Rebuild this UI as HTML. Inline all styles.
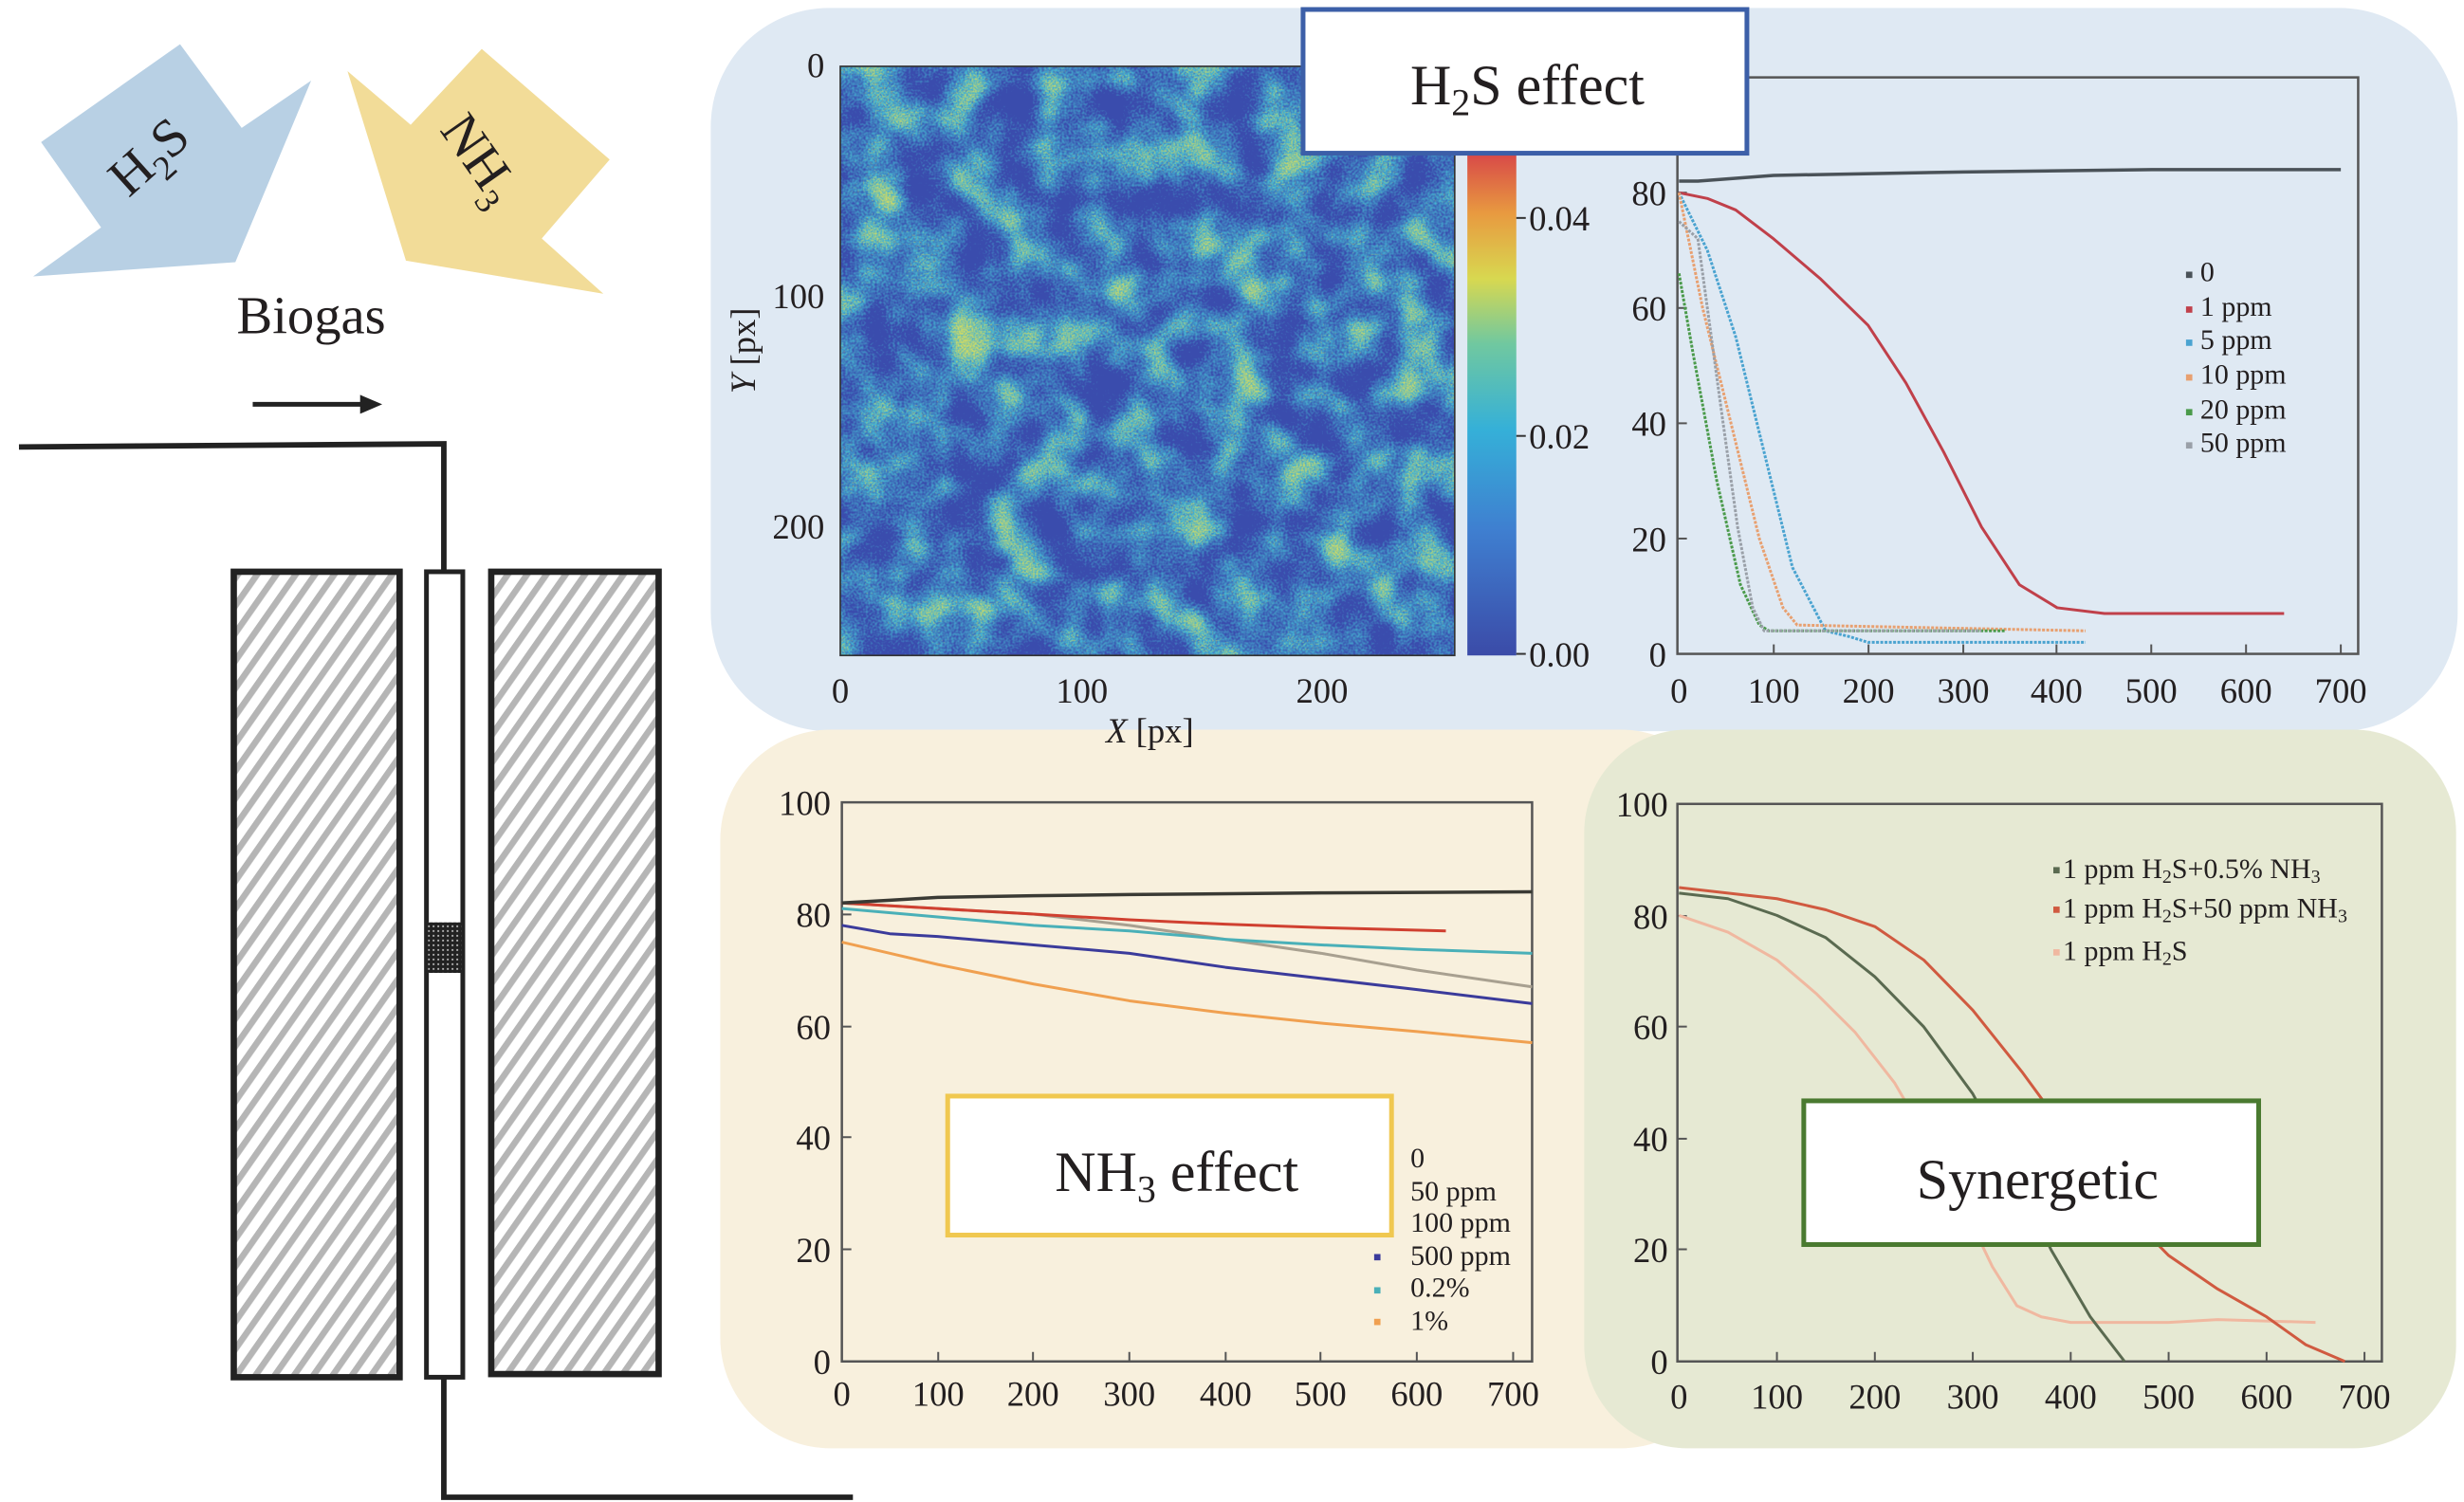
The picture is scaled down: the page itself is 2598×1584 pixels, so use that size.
<!DOCTYPE html>
<html><head><meta charset="utf-8"><style>
html,body{margin:0;padding:0;background:#fff;}
svg{display:block;}
text{font-family:"Liberation Serif",serif;fill:#231f20;}
</style></head><body>
<svg width="2598" height="1584" viewBox="0 0 1560 951" preserveAspectRatio="none" xmlns="http://www.w3.org/2000/svg">
<defs>
<pattern id="hatch" width="10" height="10" patternUnits="userSpaceOnUse" patternTransform="rotate(35)">
<rect width="10" height="10" fill="#fff"/><rect x="0" width="4" height="10" fill="#b5b5b5"/>
</pattern>
<pattern id="dots" width="3" height="3" patternUnits="userSpaceOnUse"><rect width="3" height="3" fill="#222"/><rect x="1" y="1" width="1" height="1" fill="#ddd"/></pattern>
<linearGradient id="cbar" x1="0" y1="1" x2="0" y2="0">
<stop offset="0" stop-color="#3b4ba8"/><stop offset="0.25" stop-color="#3f7fd0"/><stop offset="0.45" stop-color="#35b0d8"/><stop offset="0.62" stop-color="#70c8a0"/><stop offset="0.75" stop-color="#d8d850"/><stop offset="0.88" stop-color="#e89a40"/><stop offset="1" stop-color="#d84848"/>
</linearGradient>
<filter id="blob" x="0" y="0" width="1" height="1" color-interpolation-filters="sRGB">
<feTurbulence type="fractalNoise" baseFrequency="0.035" numOctaves="2" seed="3" result="a0"/>
<feColorMatrix in="a0" type="matrix" values="1 0 0 0 0  0 1 0 0 0  0 0 1 0 0  0 0 0 0 1" result="a"/>
<feTurbulence type="fractalNoise" baseFrequency="0.7" numOctaves="1" seed="8" result="b0"/>
<feColorMatrix in="b0" type="matrix" values="1 0 0 0 0  0 1 0 0 0  0 0 1 0 0  0 0 0 0 1" result="b"/>
<feComposite in="a" in2="b" operator="arithmetic" k1="0" k2="1" k3="0.55" k4="-0.3" result="c"/>
<feColorMatrix in="c" type="matrix" values="0 0 0 0 0.27  0 0 0 0 0.70  0 0 0 0 0.82  2.6 0 0 0 -0.8"/>
</filter>
<filter id="blob2" x="0" y="0" width="1" height="1" color-interpolation-filters="sRGB">
<feTurbulence type="fractalNoise" baseFrequency="0.035" numOctaves="2" seed="3" result="a0"/>
<feColorMatrix in="a0" type="matrix" values="1 0 0 0 0  0 1 0 0 0  0 0 1 0 0  0 0 0 0 1" result="a"/>
<feTurbulence type="fractalNoise" baseFrequency="0.9" numOctaves="1" seed="5" result="b0"/>
<feColorMatrix in="b0" type="matrix" values="1 0 0 0 0  0 1 0 0 0  0 0 1 0 0  0 0 0 0 1" result="b"/>
<feComposite in="a" in2="b" operator="arithmetic" k1="0" k2="1" k3="0.6" k4="-0.45" result="c"/>
<feColorMatrix in="c" type="matrix" values="0 0 0 0 0.80  0 0 0 0 0.85  0 0 0 0 0.40  3 0 0 0 -1.4"/>
</filter>
</defs>

<!-- panels -->
<rect x="450" y="5" width="1106" height="458" rx="75" fill="#dfe9f3"/>
<rect x="456" y="462" width="640" height="455" rx="70" fill="#f8f0dd"/>
<rect x="1003" y="462" width="552" height="455" rx="65" fill="#e6e9d3"/>

<!-- left schematic -->
<polygon points="114,28 153,81 197,51 149,166 21,175 64,144 26,90" fill="#b8d0e4"/>
<polygon points="305,31 386,101 343,151 382,186 257,165 220,45 260,79" fill="#f2dc98"/>
<text x="95" y="110" font-size="34" text-anchor="middle" transform="rotate(-42 95 100)">H<tspan font-size="22" dy="8">2</tspan><tspan dy="-8">S</tspan></text>
<text x="305" y="112" font-size="34" text-anchor="middle" transform="rotate(55 305 100)">NH<tspan font-size="22" dy="8">3</tspan></text>
<text x="197" y="211" font-size="34" text-anchor="middle">Biogas</text>
<line x1="160" y1="256" x2="230" y2="256" stroke="#222" stroke-width="3"/>
<polygon points="228,250 242,256 228,262" fill="#222"/>
<polyline points="12,283 281,281 281,362" fill="none" stroke="#222" stroke-width="3.5"/>
<rect x="148" y="362" width="105" height="510" fill="url(#hatch)" stroke="#222" stroke-width="4"/>
<rect x="311" y="362" width="106" height="508" fill="url(#hatch)" stroke="#222" stroke-width="4"/>
<rect x="270" y="362" width="23" height="510" fill="#fff" stroke="#222" stroke-width="3"/>
<rect x="271" y="584" width="21" height="32" fill="url(#dots)"/>
<polyline points="281,872 281,948 540,948" fill="none" stroke="#222" stroke-width="3.5"/>

<!-- heatmap -->
<rect x="532" y="42" width="389" height="373" fill="#3a4cad"/>
<rect x="532" y="42" width="389" height="373" fill="#000" filter="url(#blob)"/>
<rect x="532" y="42" width="389" height="373" fill="#000" filter="url(#blob2)"/>
<rect x="532" y="42" width="389" height="373" fill="none" stroke="#333" stroke-width="1"/>
<rect x="929" y="97" width="31" height="318" fill="url(#cbar)"/>
<g stroke="#333" stroke-width="1.2">
<line x1="960" y1="138" x2="966" y2="138"/><line x1="960" y1="276" x2="966" y2="276"/><line x1="960" y1="414" x2="966" y2="414"/>
</g>
<g font-size="22">
<text x="968" y="146">0.04</text><text x="968" y="284">0.02</text><text x="968" y="422">0.00</text>
<text x="532" y="445" text-anchor="middle">0</text><text x="685" y="445" text-anchor="middle">100</text><text x="837" y="445" text-anchor="middle">200</text>
<text x="522" y="49" text-anchor="end">0</text><text x="522" y="195" text-anchor="end">100</text><text x="522" y="341" text-anchor="end">200</text>
<text x="728" y="470" text-anchor="middle"><tspan font-style="italic">X</tspan> [px]</text>
<text x="478" y="222" text-anchor="middle" transform="rotate(-90 478 222)"><tspan font-style="italic">Y</tspan> [px]</text>
</g>

<!-- H2S plot -->
<rect x="1062" y="49" width="431" height="365" fill="none" stroke="#555" stroke-width="1.5"/>
<g stroke="#555" stroke-width="1.2">
<line x1="1123" y1="414" x2="1123" y2="408"/><line x1="1183" y1="414" x2="1183" y2="408"/><line x1="1243" y1="414" x2="1243" y2="408"/><line x1="1302" y1="414" x2="1302" y2="408"/><line x1="1362" y1="414" x2="1362" y2="408"/><line x1="1422" y1="414" x2="1422" y2="408"/><line x1="1482" y1="414" x2="1482" y2="408"/>
<line x1="1062" y1="341" x2="1068" y2="341"/><line x1="1062" y1="268" x2="1068" y2="268"/><line x1="1062" y1="195" x2="1068" y2="195"/><line x1="1062" y1="122" x2="1068" y2="122"/>
</g>
<g font-size="22" text-anchor="middle">
<text x="1063" y="445">0</text><text x="1123" y="445">100</text><text x="1183" y="445">200</text><text x="1243" y="445">300</text><text x="1302" y="445">400</text><text x="1362" y="445">500</text><text x="1422" y="445">600</text><text x="1482" y="445">700</text>
</g>
<g font-size="22" text-anchor="end">
<text x="1055" y="422">0</text><text x="1055" y="349">20</text><text x="1055" y="276">40</text><text x="1055" y="203">60</text><text x="1055" y="130">80</text>
</g>
<g transform="translate(1063,414) scale(0.5986,-3.65)" fill="none" stroke-linejoin="round">
<polyline vector-effect="non-scaling-stroke" stroke="#4a5258" stroke-width="3.5" points="0,82 20,82 100,83 300,83.6 500,84 700,84"/>
<polyline vector-effect="non-scaling-stroke" stroke="#c0404a" stroke-width="3" points="0,80 30,79 60,77 100,72 150,65 200,57 240,47 280,35 320,22 360,12 400,8 450,7 640,7"/>
<polyline vector-effect="non-scaling-stroke" stroke="#4aa3d0" stroke-width="3" stroke-dasharray="3 1.5" points="0,80 30,70 60,55 90,35 120,15 155,4 180,3 200,2 430,2"/>
<polyline vector-effect="non-scaling-stroke" stroke="#e8a070" stroke-width="3" stroke-dasharray="3 1.5" points="0,80 25,60 55,40 85,20 110,8 125,5 430,4"/>
<polyline vector-effect="non-scaling-stroke" stroke="#4a9a4a" stroke-width="3" stroke-dasharray="3 1.5" points="0,66 15,52 40,30 65,12 85,5 95,4 345,4"/>
<polyline vector-effect="non-scaling-stroke" stroke="#9aa0a8" stroke-width="3" stroke-dasharray="3 1.5" points="0,75 20,72 30,60 45,42 62,22 78,8 90,4 320,4"/>
</g>
<g font-size="18">
<rect x="1384" y="172" width="4" height="4" fill="#4a5258"/><text x="1393" y="178">0</text>
<rect x="1384" y="194" width="4" height="4" fill="#c0404a"/><text x="1393" y="200">1 ppm</text>
<rect x="1384" y="215" width="4" height="4" fill="#4aa3d0"/><text x="1393" y="221">5 ppm</text>
<rect x="1384" y="237" width="4" height="4" fill="#e8a070"/><text x="1393" y="243">10 ppm</text>
<rect x="1384" y="259" width="4" height="4" fill="#4a9a4a"/><text x="1393" y="265">20 ppm</text>
<rect x="1384" y="280" width="4" height="4" fill="#9aa0a8"/><text x="1393" y="286">50 ppm</text>
</g>
<rect x="825" y="6" width="281" height="91" fill="#fff" stroke="#3c5fa8" stroke-width="3"/>
<text x="967" y="66" font-size="36" text-anchor="middle">H<tspan font-size="24" dy="7">2</tspan><tspan dy="-7">S effect</tspan></text>

<!-- NH3 plot -->
<rect x="533" y="508" width="437" height="354" fill="none" stroke="#555" stroke-width="1.5"/>
<g stroke="#555" stroke-width="1.2">
<line x1="594" y1="862" x2="594" y2="856"/><line x1="654" y1="862" x2="654" y2="856"/><line x1="715" y1="862" x2="715" y2="856"/><line x1="776" y1="862" x2="776" y2="856"/><line x1="836" y1="862" x2="836" y2="856"/><line x1="897" y1="862" x2="897" y2="856"/><line x1="958" y1="862" x2="958" y2="856"/>
<line x1="533" y1="791" x2="539" y2="791"/><line x1="533" y1="720" x2="539" y2="720"/><line x1="533" y1="650" x2="539" y2="650"/><line x1="533" y1="579" x2="539" y2="579"/>
</g>
<g font-size="22" text-anchor="middle">
<text x="533" y="890">0</text><text x="594" y="890">100</text><text x="654" y="890">200</text><text x="715" y="890">300</text><text x="776" y="890">400</text><text x="836" y="890">500</text><text x="897" y="890">600</text><text x="958" y="890">700</text>
</g>
<g font-size="22" text-anchor="end">
<text x="526" y="870">0</text><text x="526" y="799">20</text><text x="526" y="728">40</text><text x="526" y="658">60</text><text x="526" y="587">80</text><text x="526" y="516">100</text>
</g>
<g transform="translate(533,862) scale(0.607,-3.54)" fill="none" stroke-linejoin="round">
<polyline vector-effect="non-scaling-stroke" stroke="#a8a090" stroke-width="3" points="0,82 100,81 200,80 300,78 400,75.5 500,73 600,70 720,67"/>
<polyline vector-effect="non-scaling-stroke" stroke="#4ab0b8" stroke-width="3" points="0,81 100,79.5 200,78 300,77 400,75.5 500,74.5 600,73.7 720,73"/>
<polyline vector-effect="non-scaling-stroke" stroke="#d04030" stroke-width="3" points="0,82 100,81 200,80 300,79 400,78.2 500,77.6 630,77"/>
<polyline vector-effect="non-scaling-stroke" stroke="#3b3b9b" stroke-width="3" points="0,78 50,76.5 100,76 200,74.5 300,73 400,70.5 500,68.5 600,66.5 720,64"/>
<polyline vector-effect="non-scaling-stroke" stroke="#f0a050" stroke-width="3" points="0,75 50,73 100,71 200,67.5 300,64.5 400,62.3 500,60.5 600,59 720,57"/>
<polyline vector-effect="non-scaling-stroke" stroke="#3a3a34" stroke-width="3.5" points="0,82 50,82.5 100,83 200,83.3 300,83.5 500,83.8 720,84"/>
</g>
<rect x="600" y="694" width="281" height="88" fill="#fff" stroke="#f0c850" stroke-width="3"/>
<text x="745" y="754" font-size="36" text-anchor="middle">NH<tspan font-size="24" dy="7">3</tspan><tspan dy="-7"> effect</tspan></text>
<g font-size="18">
<text x="893" y="739">0</text><text x="893" y="760">50 ppm</text><text x="893" y="780">100 ppm</text><text x="893" y="801">500 ppm</text><text x="893" y="821">0.2%</text><text x="893" y="842">1%</text>
<rect x="870" y="794" width="4" height="4" fill="#3b3b9b"/><rect x="870" y="815" width="4" height="4" fill="#4ab0b8"/><rect x="870" y="835" width="4" height="4" fill="#f0a050"/>
</g>

<!-- Synergetic plot -->
<rect x="1062" y="509" width="446" height="353" fill="none" stroke="#555" stroke-width="1.5"/>
<g stroke="#555" stroke-width="1.2">
<line x1="1125" y1="862" x2="1125" y2="856"/><line x1="1187" y1="862" x2="1187" y2="856"/><line x1="1249" y1="862" x2="1249" y2="856"/><line x1="1311" y1="862" x2="1311" y2="856"/><line x1="1373" y1="862" x2="1373" y2="856"/><line x1="1435" y1="862" x2="1435" y2="856"/><line x1="1497" y1="862" x2="1497" y2="856"/>
<line x1="1062" y1="791" x2="1068" y2="791"/><line x1="1062" y1="721" x2="1068" y2="721"/><line x1="1062" y1="650" x2="1068" y2="650"/><line x1="1062" y1="580" x2="1068" y2="580"/>
</g>
<g font-size="22" text-anchor="middle">
<text x="1063" y="892">0</text><text x="1125" y="892">100</text><text x="1187" y="892">200</text><text x="1249" y="892">300</text><text x="1311" y="892">400</text><text x="1373" y="892">500</text><text x="1435" y="892">600</text><text x="1497" y="892">700</text>
</g>
<g font-size="22" text-anchor="end">
<text x="1056" y="870">0</text><text x="1056" y="799">20</text><text x="1056" y="729">40</text><text x="1056" y="658">60</text><text x="1056" y="588">80</text><text x="1056" y="517">100</text>
</g>
<g transform="translate(1063,862) scale(0.62,-3.53)" fill="none" stroke-linejoin="round">
<polyline vector-effect="non-scaling-stroke" stroke="#f0b8a0" stroke-width="3" points="0,80 50,77 100,72 140,66 180,59 220,50 260,38 290,28 320,17 345,10 370,8 400,7 500,7 550,7.5 650,7"/>
<polyline vector-effect="non-scaling-stroke" stroke="#5a6a50" stroke-width="3" points="0,84 50,83 100,80 150,76 200,69 250,60 300,48 340,35 380,20 420,8 455,0"/>
<polyline vector-effect="non-scaling-stroke" stroke="#d05a40" stroke-width="3" points="0,85 50,84 100,83 150,81 200,78 250,72 300,63 350,52 400,40 450,28 500,19 550,13 600,8 640,3 680,0"/>
</g>
<rect x="1142" y="697" width="288" height="91" fill="#fff" stroke="#4a7a30" stroke-width="3"/>
<text x="1290" y="759" font-size="36" text-anchor="middle">Synergetic</text>
<g font-size="18">
<rect x="1300" y="549" width="4" height="4" fill="#5a6a50"/><text x="1306" y="556">1 ppm H<tspan font-size="12" dy="3">2</tspan><tspan dy="-3">S+0.5% NH</tspan><tspan font-size="12" dy="3">3</tspan></text>
<rect x="1300" y="574" width="4" height="4" fill="#d05a40"/><text x="1306" y="581">1 ppm H<tspan font-size="12" dy="3">2</tspan><tspan dy="-3">S+50 ppm NH</tspan><tspan font-size="12" dy="3">3</tspan></text>
<rect x="1300" y="601" width="4" height="4" fill="#f0b8a0"/><text x="1306" y="608">1 ppm H<tspan font-size="12" dy="3">2</tspan><tspan dy="-3">S</tspan></text>
</g>
</svg>
</body></html>
